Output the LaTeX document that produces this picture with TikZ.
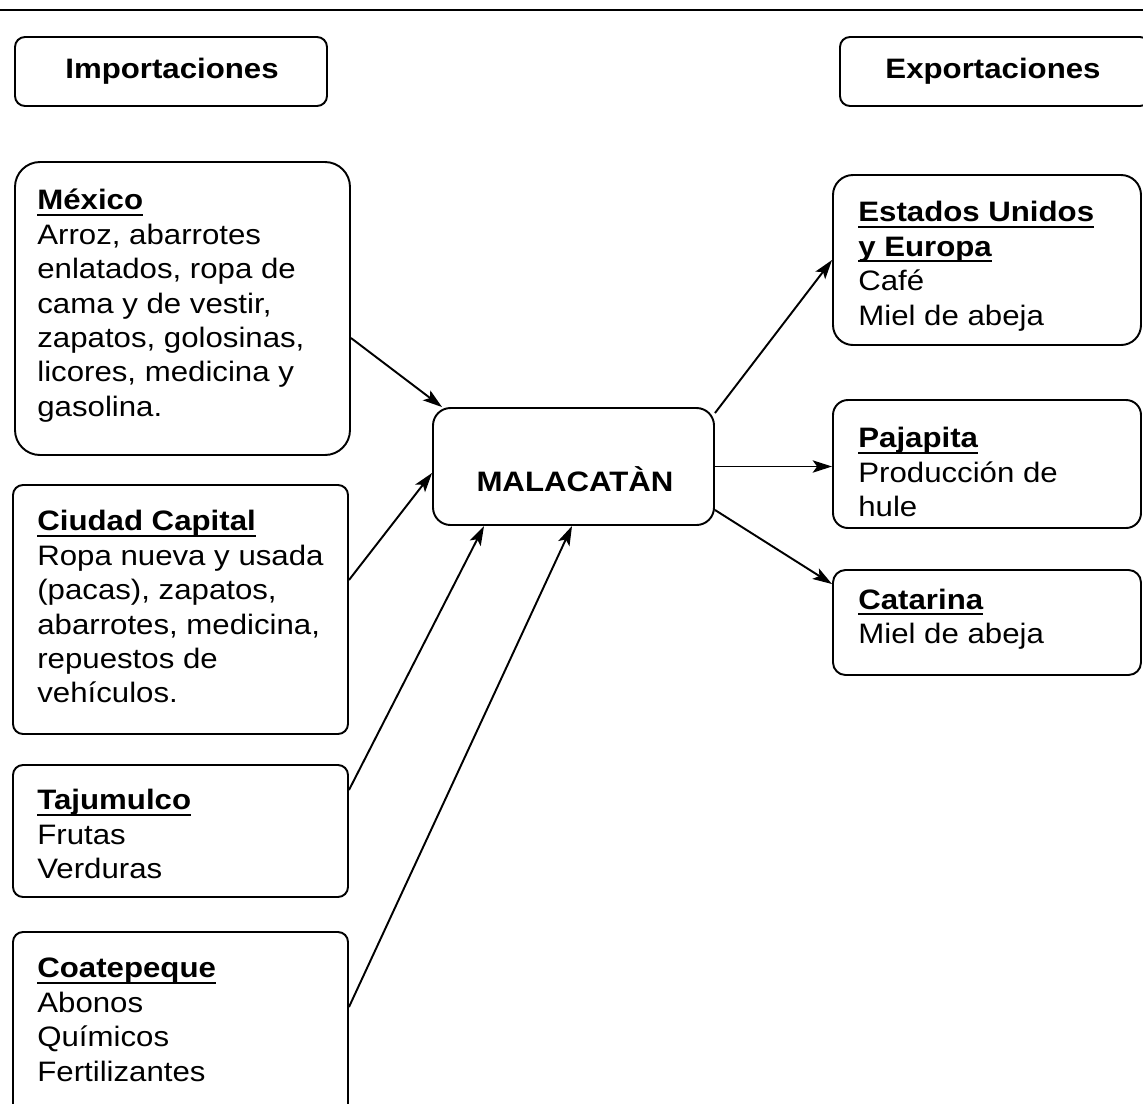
\documentclass[tikz,border=0pt]{standalone}
\usepackage{fontspec}
\setmainfont{Liberation Sans}[FakeStretch=1.11]
\usetikzlibrary{arrows.meta,fit}
\newcommand\hd[1]{\setbox0\hbox{\bfseries #1}\rlap{\rule[-3.3pt]{\wd0}{1.1pt}}\box0}
\newcommand\fst{\rule{0pt}{15pt}}
\begin{document}
\begin{tikzpicture}[x=0.02cm,y=-0.02cm,
  box/.style={draw, line width=1.1pt, inner sep=0pt},
  txt/.style={anchor=north west, inner sep=0pt, align=left, font=\fontsize{16}{19.6}\selectfont},
  ttl/.style={inner sep=0pt, font=\bfseries\fontsize{16}{19.6}\selectfont},
  arr/.style={line width=1.1pt, -{Stealth[length=11pt,width=7pt,inset=2.5pt]}}]
\useasboundingbox (0,0) rectangle (1143,1103);
\clip (0,0) rectangle (1143,1103);
% top rule
\coordinate (rl) at (0,10);
\coordinate (rr) at (1143,10);
\draw[line width=1.1pt] (rl) -- (rr);
% headers
\node[box, rounded corners=0.2cm, fit={(15,37)(327,106)}] (imp) {};
\node[ttl] (impt) at (172,71) {Importaciones};
\node[box, rounded corners=0.2cm, fit={(840,37)(1150,106)}] (exp) {};
\node[ttl] (expt) at (993,71) {Exportaciones};
% left boxes
\node[box, rounded corners=0.5cm, fit={(15,162)(350,455)}] (mex) {};
\node[txt] (mext) at (37,183) {\fst\hd{México}\\Arroz, abarrotes\\enlatados, ropa de\\cama y de vestir,\\zapatos, golosinas,\\licores, medicina y\\gasolina.};
\node[box, rounded corners=0.2cm, fit={(13,485)(348,734)}] (cap) {};
\node[txt] (capt) at (37,504) {\fst\hd{Ciudad Capital}\\Ropa nueva y usada\\(pacas), zapatos,\\abarrotes, medicina,\\repuestos de\\vehículos.};
\node[box, rounded corners=0.2cm, fit={(13,765)(348,897)}] (taj) {};
\node[txt] (tajt) at (37,783) {\fst\hd{Tajumulco}\\Frutas\\Verduras};
\node[box, rounded corners=0.2cm, fit={(13,932)(348,1120)}] (coa) {};
\node[txt] (coat) at (37,951) {\fst\hd{Coatepeque}\\Abonos\\Químicos\\Fertilizantes};
% center
\node[box, rounded corners=0.35cm, fit={(433,408)(714,525)}] (mal) {};
\node[ttl] (malt) at (575,479) {MALACATÀN};
% right boxes
\node[box, rounded corners=0.4cm, fit={(833,175)(1141,345)}] (eu) {};
\node[txt] (eut) at (858,195) {\fst\hd{Estados Unidos}\\\hd{y Europa}\\Café\\Miel de abeja};
\node[box, rounded corners=0.3cm, fit={(833,400)(1141,528)}] (paj) {};
\node[txt] (pajt) at (858,421) {\fst\hd{Pajapita}\\Producción de\\hule};
\node[box, rounded corners=0.25cm, fit={(833,570)(1141,675)}] (cat) {};
\node[txt] (catt) at (858,582.6) {\fst\hd{Catarina}\\Miel de abeja};
% connectors
\draw[arr] ([yshift=-0.59cm]mex.east) -- ([xshift=0.2cm]mal.north west);
\draw[arr] ([yshift=0.59cm]cap.east) -- ([yshift=-0.13cm]mal.west);
\draw[arr] ([yshift=0.82cm]taj.east) -- ([xshift=1.04cm]mal.south west);
\draw[arr] ([yshift=0.38cm]coa.east) -- ([xshift=2.8cm]mal.south west);
\draw[arr] ([yshift=-0.12cm]mal.north east) -- (eu.west);
\draw[arr] (mal.east) -- (mal.east -| paj.west);
\draw[arr] ([yshift=0.32cm]mal.south east) -- ([yshift=-0.3cm]cat.north west);
\end{tikzpicture}
\end{document}
